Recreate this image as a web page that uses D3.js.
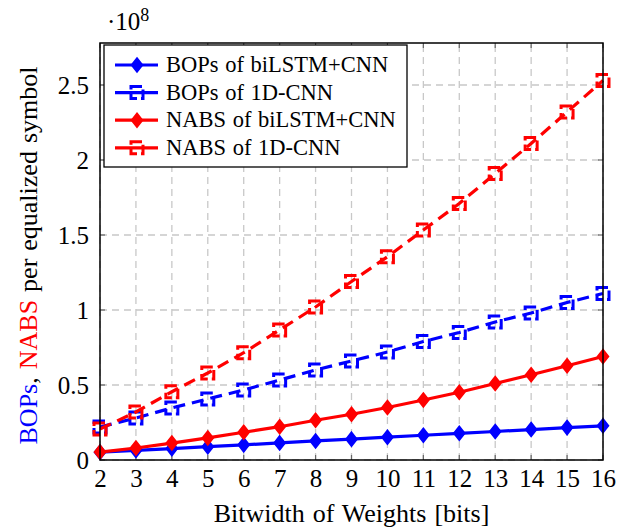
<!DOCTYPE html>
<html>
<head>
<meta charset="utf-8">
<script src="https://cdn.jsdelivr.net/npm/d3@7"></script>
<style>
  body { margin: 0; background: #fff; }
  svg text { font-family: "Liberation Serif", "Times New Roman", "DejaVu Serif", serif; }
</style>
</head>
<body>
<svg id="chart" width="624" height="527"></svg>
<script>
// bitwidth of weights on the x axis
const bits = [2, 3, 4, 5, 6, 7, 8, 9, 10, 11, 12, 13, 14, 15, 16];

// values in units of 1e8
const bopsBiLSTM = [0.052, 0.064, 0.076, 0.089, 0.101, 0.114, 0.127, 0.139, 0.152, 0.165, 0.178, 0.19, 0.203, 0.216, 0.228];
const bops1DCNN  = [0.22, 0.28, 0.347, 0.407, 0.467, 0.533, 0.60, 0.66, 0.72, 0.79, 0.85, 0.92, 0.98, 1.05, 1.11];
const nabsBiLSTM = [0.053, 0.08, 0.113, 0.147, 0.185, 0.222, 0.265, 0.305, 0.35, 0.40, 0.452, 0.51, 0.568, 0.628, 0.69];
const nabs1DCNN  = [0.207, 0.32, 0.455, 0.58, 0.715, 0.867, 1.02, 1.19, 1.355, 1.533, 1.71, 1.91, 2.11, 2.32, 2.53];

const yTicks = [0, 0.5, 1, 1.5, 2, 2.5];

const series = [
  { name: "BOPs of biLSTM+CNN", values: bopsBiLSTM, color: "#0000ff", dashed: false, mark: "diamond" },
  { name: "BOPs of 1D-CNN",     values: bops1DCNN,  color: "#0000ff", dashed: true,  mark: "square" },
  { name: "NABS of biLSTM+CNN", values: nabsBiLSTM, color: "#ff0000", dashed: false, mark: "diamond" },
  { name: "NABS of 1D-CNN",     values: nabs1DCNN,  color: "#ff0000", dashed: true,  mark: "square" }
];

const pLeft = 100, pRight = 603, pTop = 43, pBottom = 460;
const fontSize = 25;
const serif = "'Liberation Serif', 'Times New Roman', serif";
const dash = "12,7";

const svg = d3.select("#chart");

const x = d3.scaleLinear().domain([2, 16]).range([pLeft, pRight]);
const y = d3.scaleLinear().domain([0, 2.78]).range([pBottom, pTop]);

// grid
const grid = svg.append("g")
  .attr("stroke", "#c8c8c8")
  .attr("stroke-width", 1.3)
  .attr("stroke-dasharray", "7,5");
grid.selectAll("line.v").data(bits).enter().append("line")
  .attr("x1", d => x(d)).attr("x2", d => x(d))
  .attr("y1", pBottom).attr("y2", pTop);
grid.selectAll("line.h").data(yTicks).enter().append("line")
  .attr("x1", pLeft).attr("x2", pRight)
  .attr("y1", d => y(d)).attr("y2", d => y(d));

// inner tick marks on all four sides
const ticks = svg.append("g").attr("stroke", "#666").attr("stroke-width", 1.2);
bits.forEach(b => {
  ticks.append("line").attr("x1", x(b)).attr("x2", x(b)).attr("y1", pBottom).attr("y2", pBottom - 5);
  ticks.append("line").attr("x1", x(b)).attr("x2", x(b)).attr("y1", pTop).attr("y2", pTop + 5);
});
yTicks.forEach(v => {
  ticks.append("line").attr("x1", pLeft).attr("x2", pLeft + 5).attr("y1", y(v)).attr("y2", y(v));
  ticks.append("line").attr("x1", pRight).attr("x2", pRight - 5).attr("y1", y(v)).attr("y2", y(v));
});

// axes tick labels
const xAxis = d3.axisBottom(x).tickValues(bits).tickSize(0).tickPadding(9).tickFormat(d3.format("d"));
svg.append("g").attr("transform", `translate(0,${pBottom})`).call(xAxis)
  .attr("font-family", serif)
  .call(g => g.select(".domain").remove())
  .selectAll("text").attr("font-size", fontSize).style("font-family", serif).attr("fill", "#000");

const yAxis = d3.axisLeft(y).tickValues(yTicks).tickSize(0).tickPadding(11).tickFormat(d => d3.format("")(d));
svg.append("g").attr("transform", `translate(${pLeft},0)`).call(yAxis)
  .attr("font-family", serif)
  .call(g => g.select(".domain").remove())
  .selectAll("text").attr("font-size", fontSize).style("font-family", serif).attr("fill", "#000");

// markers
function drawMark(g, s, cx, cy) {
  if (s.mark === "diamond") {
    g.append("path")
      .attr("d", `M${cx},${cy - 7}L${cx + 5.5},${cy}L${cx},${cy + 7}L${cx - 5.5},${cy}Z`)
      .attr("fill", s.color).attr("stroke", s.color).attr("stroke-width", 1.6);
  } else {
    g.append("rect")
      .attr("x", cx - 6).attr("y", cy - 6).attr("width", 12).attr("height", 12)
      .attr("fill", "none").attr("stroke", s.color).attr("stroke-width", 3)
      .attr("stroke-dasharray", "11,4");
  }
}

const line = d3.line().x((d, i) => x(bits[i])).y(d => y(d));

series.forEach(s => {
  const g = svg.append("g");
  g.append("path")
    .attr("d", line(s.values))
    .attr("fill", "none")
    .attr("stroke", s.color)
    .attr("stroke-width", 3.2)
    .attr("stroke-dasharray", s.dashed ? dash : null);
  s.values.forEach((v, i) => drawMark(g, s, x(bits[i]), y(v)));
});

// frame
svg.append("rect")
  .attr("x", pLeft).attr("y", pTop).attr("width", pRight - pLeft).attr("height", pBottom - pTop)
  .attr("fill", "none").attr("stroke", "#000").attr("stroke-width", 1.5);

// legend
const legend = svg.append("g");
legend.append("rect")
  .attr("x", 104).attr("y", 45).attr("width", 303).attr("height", 122)
  .attr("fill", "#fff").attr("stroke", "#000").attr("stroke-width", 1.3);
series.forEach((s, i) => {
  const ly = 65 + i * 27.6;
  legend.append("line")
    .attr("x1", 115).attr("x2", 158).attr("y1", ly).attr("y2", ly)
    .attr("stroke", s.color).attr("stroke-width", 3.2);
  drawMark(legend, s, 137, ly);
  legend.append("text")
    .attr("x", 166).attr("y", ly + 7)
    .attr("font-size", 22.5)
    .style("font-family", serif)
    .style("word-spacing", "1px")
    .text(s.name);
});

// axis labels
svg.append("text")
  .attr("x", (pLeft + pRight) / 2).attr("y", 522)
  .attr("text-anchor", "middle").attr("font-size", 26)
  .style("font-family", serif)
  .style("word-spacing", "1.5px")
  .text("Bitwidth of Weights [bits]");

const yl = svg.append("text")
  .attr("transform", `translate(37,${(pTop + pBottom) / 2 + 4}) rotate(-90)`)
  .attr("text-anchor", "middle").attr("font-size", 26)
  .style("font-family", serif)
  .style("word-spacing", "1.5px");
yl.append("tspan").attr("fill", "#0000ff").text("BOPs");
yl.append("tspan").attr("fill", "#000").text(", ");
yl.append("tspan").attr("fill", "#ff0000").text("NABS");
yl.append("tspan").attr("fill", "#000").text(" per equalized symbol");

// scale factor
const sf = svg.append("text").attr("x", 107).attr("y", 30).attr("font-size", fontSize).style("font-family", serif);
sf.append("tspan").text("·10");
sf.append("tspan").attr("font-size", 18).attr("dy", -9).text("8");
</script>
</body>
</html>
